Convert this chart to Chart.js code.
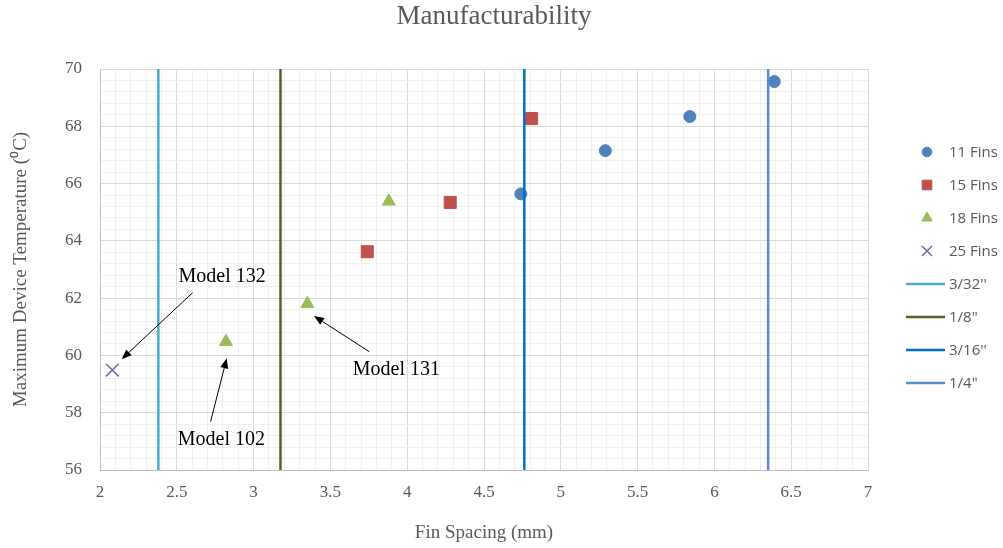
<!DOCTYPE html>
<html>
<head>
<meta charset="utf-8">
<script src="https://cdn.jsdelivr.net/npm/chart.js@4.4.1/dist/chart.umd.min.js"></script>
<style>
  html, body { margin: 0; padding: 0; background: #fff; }
  #wrap { width: 1003px; height: 548px; }
</style>
</head>
<body>
<div id="wrap"><canvas id="chart" width="1003" height="548"></canvas></div>
<script>
// fin spacing (mm) vs max device temperature (C)
const fins11X = [4.74, 5.29, 5.84, 6.39];
const fins11Y = [65.64, 67.15, 68.34, 69.56];
const fins15X = [3.74, 4.28, 4.81];
const fins15Y = [63.62, 65.34, 68.27];
const fins18X = [2.82, 3.35, 3.88];
const fins18Y = [60.48, 61.80, 65.38];
const fins25X = [2.08];
const fins25Y = [59.49];

// cutter sizes drawn as vertical lines
const cutterLabels = ["3/32''", '1/8"', "3/16''", '1/4"'];
const cutterMm = [2.38, 3.175, 4.7625, 6.35];

const xTickLabels = [2, 2.5, 3, 3.5, 4, 4.5, 5, 5.5, 6, 6.5, 7];
const yTickLabels = [56, 58, 60, 62, 64, 66, 68, 70];

// callouts (data coords)
const noteLabels = ['Model 132', 'Model 102', 'Model 131'];
const noteTextX = [2.795, 2.79, 3.93];
const noteTextY = [62.74, 57.05, 59.49];
const arrowFromX = [2.603, 2.72, 3.753];
const arrowFromY = [62.19, 57.69, 60.13];
const arrowToX = [2.141, 2.825, 3.393];
const arrowToY = [59.87, 59.90, 61.38];

const serif = '"Liberation Serif", "Times New Roman", serif';
const textGrey = '#595959';

const toPoints = (xs, ys) => xs.map((x, i) => ({ x: x, y: ys[i] }));
const isOn = (v, list) => list.some(t => Math.abs(t - v) < 1e-6);

// minor grid every 0.1 on x and 0.4 on y
const xGrid = [];
for (let i = 0; i <= 50; i++) xGrid.push(+(2 + i * 0.1).toFixed(2));
const yGrid = [];
for (let i = 0; i <= 35; i++) yGrid.push(+(56 + i * 0.4).toFixed(2));

const lineColors = ['#4bacc6', '#4f6228', '#0070c0', '#5b8bcf'];

const datasets = [
  { label: '11 Fins', data: toPoints(fins11X, fins11Y), pointStyle: 'circle', pointRadius: 6,
    backgroundColor: '#4f81bd', borderColor: '#4f81bd', borderWidth: 1, order: 1 },
  { label: '15 Fins', data: toPoints(fins15X, fins15Y), pointStyle: 'rect', pointRadius: 8.5,
    backgroundColor: '#c0504d', borderColor: '#c0504d', borderWidth: 1, order: 1 },
  { label: '18 Fins', data: toPoints(fins18X, fins18Y), pointStyle: 'triangle', pointRadius: 7.5,
    backgroundColor: '#9bbb59', borderColor: '#9bbb59', borderWidth: 1, order: 1 },
  { label: '25 Fins', data: toPoints(fins25X, fins25Y), pointStyle: 'crossRot', pointRadius: 9,
    backgroundColor: '#8064a2', borderColor: '#8064a2', borderWidth: 1.5, order: 1 }
];
cutterMm.forEach((mm, i) => {
  datasets.push({
    label: cutterLabels[i],
    data: [{ x: mm, y: 56 }, { x: mm, y: 70 }],
    showLine: true, pointRadius: 0, pointHoverRadius: 0,
    borderColor: lineColors[i], backgroundColor: lineColors[i], borderWidth: 2.5, order: 0
  });
});

const extras = {
  id: 'extras',
  afterDatasetsDraw(chart) {
    const ctx = chart.ctx, xs = chart.scales.x, ys = chart.scales.y;
    ctx.save();
    ctx.fillStyle = '#000';
    ctx.strokeStyle = '#000';
    ctx.lineWidth = 1;
    ctx.font = '20px ' + serif;
    ctx.textAlign = 'center';
    ctx.textBaseline = 'middle';
    noteLabels.forEach((t, i) => {
      ctx.fillText(t, xs.getPixelForValue(noteTextX[i]), ys.getPixelForValue(noteTextY[i]));
      const fx = xs.getPixelForValue(arrowFromX[i]), fy = ys.getPixelForValue(arrowFromY[i]);
      const tx = xs.getPixelForValue(arrowToX[i]), ty = ys.getPixelForValue(arrowToY[i]);
      const a = Math.atan2(ty - fy, tx - fx);
      const hl = 10, hw = 4;
      const bx = tx - hl * Math.cos(a), by = ty - hl * Math.sin(a);
      ctx.beginPath();
      ctx.moveTo(fx, fy);
      ctx.lineTo(bx, by);
      ctx.stroke();
      ctx.beginPath();
      ctx.moveTo(tx, ty);
      ctx.lineTo(bx + hw * Math.sin(a), by - hw * Math.cos(a));
      ctx.lineTo(bx - hw * Math.sin(a), by + hw * Math.cos(a));
      ctx.closePath();
      ctx.fill();
    });
    ctx.restore();
  },
  afterDraw(chart) {
    const ctx = chart.ctx;
    ctx.save();
    // title
    ctx.fillStyle = textGrey;
    ctx.font = '27px ' + serif;
    ctx.textAlign = 'center';
    ctx.textBaseline = 'middle';
    ctx.fillText('Manufacturability', 494, 17);

    // legend on the right
    ctx.font = '15px "Open Sans", sans-serif';
    ctx.textAlign = 'left';
    chart.data.datasets.forEach((ds, i) => {
      const y = 152 + i * 33;
      if (ds.showLine) {
        ctx.strokeStyle = ds.borderColor;
        ctx.lineWidth = ds.borderWidth;
        ctx.beginPath();
        ctx.moveTo(906, y);
        ctx.lineTo(945, y);
        ctx.stroke();
      } else {
        ctx.fillStyle = ds.backgroundColor;
        ctx.strokeStyle = ds.borderColor;
        ctx.lineWidth = ds.borderWidth;
        Chart.helpers.drawPoint(ctx, {
          pointStyle: ds.pointStyle, rotation: 0,
          radius: ds.pointRadius * 0.8, borderWidth: ds.borderWidth
        }, 927, y);
      }
      ctx.fillStyle = textGrey;
      ctx.fillText(ds.label, 949, y + 1);
    });
    ctx.restore();
  }
};

new Chart(document.getElementById('chart'), {
  type: 'scatter',
  data: { datasets: datasets },
  plugins: [extras],
  options: {
    responsive: false,
    animation: false,
    events: [],
    layout: { padding: { top: 69, right: 135, left: 0, bottom: 0 } },
    plugins: {
      legend: { display: false },
      title: { display: false },
      tooltip: { enabled: false }
    },
    scales: {
      x: {
        type: 'linear', min: 2, max: 7,
        afterBuildTicks: s => { s.ticks = xGrid.map(v => ({ value: v })); },
        afterFit: s => { s.height = 78; },
        ticks: {
          autoSkip: false, maxRotation: 0, padding: 12, color: textGrey,
          font: { family: serif, size: 17 },
          callback: v => isOn(v, xTickLabels) ? String(v) : ''
        },
        grid: {
          drawTicks: false,
          color: c => isOn(c.tick.value, xTickLabels) ? '#d9d9d9' : '#f0f0f0'
        },
        border: { color: '#bfbfbf' },
        title: {
          display: true, text: 'Fin Spacing (mm)', color: textGrey,
          font: { family: serif, size: 19 }, padding: { top: 0, bottom: 4 }
        }
      },
      y: {
        type: 'linear', min: 56, max: 70,
        afterBuildTicks: s => { s.ticks = yGrid.map(v => ({ value: v })); },
        afterFit: s => { s.width = 100; },
        ticks: {
          autoSkip: false, padding: 18, color: textGrey,
          font: { family: serif, size: 17 },
          callback: v => isOn(v, yTickLabels) ? String(v) : ''
        },
        grid: {
          drawTicks: false,
          color: c => isOn(c.tick.value, yTickLabels) ? '#d9d9d9' : '#f0f0f0'
        },
        border: { color: '#bfbfbf' },
        title: {
          display: true, text: 'Maximum Device Temperature (\u2070C)', color: textGrey,
          font: { family: serif, size: 19 }, padding: { top: 10, bottom: 0 }
        }
      }
    }
  }
});
</script>
</body>
</html>
